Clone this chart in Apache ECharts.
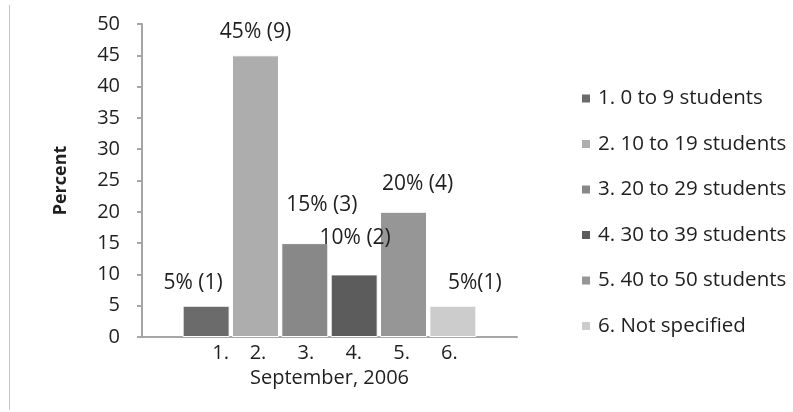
<!DOCTYPE html>
<html>
<head>
<meta charset="utf-8">
<script src="https://cdn.jsdelivr.net/npm/echarts@6/dist/echarts.min.js"></script>
<style>
  html, body { margin: 0; padding: 0; background: #fff; }
  #chart { width: 793px; height: 412px; }
</style>
</head>
<body>
<div id="chart"></div>
<script>
// Class sizes, September 2006: share of responses (%) and number of responses
const category = '1.    2.      3.      4.      5.      6.';
const seriesNames = [
  '1. 0 to 9 students',
  '2. 10 to 19 students',
  '3. 20 to 29 students',
  '4. 30 to 39 students',
  '5. 40 to 50 students',
  '6. Not specified'
];
const percents = [5, 45, 15, 10, 20, 5];
const counts = [1, 9, 3, 2, 4, 1];
const valueLabels = ['5% (1)', '45% (9)', '15% (3)', '10% (2)', '20% (4)', '5%(1)'];
const yTicks = [0, 5, 10, 15, 20, 25, 30, 35, 40, 45, 50];

const FONT = '"Open Sans", "Noto Sans", sans-serif';
const TEXT = '#1f1f1f';
const colors = ['#6b6b6b', '#adadad', '#888888', '#5c5c5c', '#969696', '#cccccc'];
// nudges for the value labels so they sit like the hand-placed ones
const labelNudge = [[-13, -7], [0, -8], [17, -23], [1, -21], [14, -12], [22, -7]];

const chart = echarts.init(document.getElementById('chart'), null, { renderer: 'canvas' });

const series = seriesNames.map((name, i) => ({
  name: name,
  type: 'bar',
  barWidth: 47,
  barGap: '5%',
  data: [percents[i]],
  itemStyle: { color: colors[i], borderColor: '#ffffff', borderWidth: 1 },
  label: {
    show: true,
    position: 'top',
    distance: 5,
    offset: labelNudge[i],
    formatter: () => valueLabels[i],
    fontFamily: FONT,
    fontSize: 21,
    color: TEXT
  }
}));

chart.setOption({
  backgroundColor: '#ffffff',
  animation: false,
  color: colors,
  grid: { left: 142, right: 276, top: 24, bottom: 75, containLabel: false },
  legend: {
    orient: 'vertical',
    left: 580,
    top: 88,
    padding: 0,
    itemWidth: 10,
    itemHeight: 10,
    itemGap: 24.5,
    icon: 'rect',
    textStyle: { fontFamily: FONT, fontSize: 20.5, color: TEXT, padding: [0, 0, 0, 2] },
    data: seriesNames
  },
  xAxis: {
    type: 'category',
    data: [category],
    name: 'September, 2006',
    nameLocation: 'middle',
    nameGap: 30,
    nameTextStyle: { fontFamily: FONT, fontSize: 20, color: TEXT },
    axisLine: { lineStyle: { color: '#a6a6a6', width: 2 } },
    axisTick: { show: false },
    axisLabel: { fontFamily: FONT, fontSize: 20, color: TEXT, margin: 6, padding: [0, 0, 0, 11] }
  },
  yAxis: {
    type: 'value',
    min: yTicks[0],
    max: yTicks[yTicks.length - 1],
    interval: yTicks[1] - yTicks[0],
    name: 'Percent',
    nameLocation: 'middle',
    nameGap: 72,
    nameTextStyle: { fontFamily: FONT, fontSize: 18, fontWeight: 'bold', color: TEXT },
    axisLine: { show: true, lineStyle: { color: '#a6a6a6', width: 2 } },
    axisTick: { show: true, length: 5, lineStyle: { color: '#a6a6a6', width: 2 } },
    splitLine: { show: false },
    axisLabel: { fontFamily: FONT, fontSize: 20, color: TEXT, margin: 22 }
  },
  graphic: [{
    type: 'line',
    shape: { x1: 9.5, y1: 5, x2: 9.5, y2: 410 },
    style: { stroke: '#c4c4c4', lineWidth: 1 }
  }],
  series: series
});
</script>
</body>
</html>
